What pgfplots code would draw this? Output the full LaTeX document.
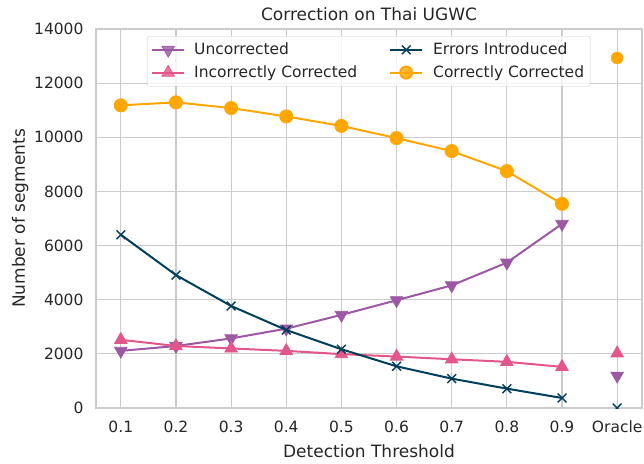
\documentclass[border=0pt]{standalone}
\usepackage{pgfplots}
\pgfplotsset{compat=1.18}
\usepackage{fontspec}
\setmainfont{DejaVu Sans}
\definecolor{cUnc}{HTML}{9D58A4}
\definecolor{cInc}{HTML}{E3568B}
\definecolor{cErr}{HTML}{003F5C}
\definecolor{cCor}{HTML}{FFA600}
\definecolor{cGrid}{HTML}{CCCCCC}
\definecolor{cText}{HTML}{262626}

\pgfplotstableread{
x unc inc err cor
0.1 2110 2520 6400 11180
0.2 2290 2290 4910 11290
0.3 2570 2200 3770 11080
0.4 2930 2110 2880 10770
0.5 3440 1990 2170 10420
0.6 3980 1900 1540 9970
0.7 4530 1800 1085 9490
0.8 5370 1705 715 8750
0.9 6800 1520 370 7540
}\datatable

\begin{document}
\begin{tikzpicture}
\useasboundingbox (-96bp,-56bp) rectangle (548bp,408bp);
\begin{axis}[
  scale only axis,
  width=546bp, height=379bp,
  xmin=0.055, xmax=1.045,
  ymin=0, ymax=14000,
  xtick={0.1,0.2,0.3,0.4,0.5,0.6,0.7,0.8,0.9,1.0},
  xticklabels={0.1,0.2,0.3,0.4,0.5,0.6,0.7,0.8,0.9,Oracle},
  ytick={0,2000,4000,6000,8000,10000,12000,14000},
  scaled y ticks=false,
  /pgf/number format/fixed,
  /pgf/number format/1000 sep={},
  /pgf/number format/assume math mode=true,
  major tick length=0pt,
  grid=major,
  major grid style={draw=cGrid, line width=1.2bp},
  axis line style={draw=cGrid, line width=1.2bp},
  tick label style={font=\fontsize{15.5bp}{18bp}\selectfont, text=cText},
  xticklabel style={yshift=-9bp},
  yticklabel style={xshift=-9bp},
  label style={font=\fontsize{17bp}{20bp}\selectfont, text=cText},
  xlabel style={yshift=-5bp},
  ylabel style={yshift=-1bp},
  title style={font=\fontsize{17bp}{20bp}\selectfont, text=cText, yshift=-1bp},
  title={Correction on Thai UGWC},
  xlabel={Detection Threshold},
  ylabel={Number of segments},
  clip marker paths=true,
  legend columns=2,
  legend cell align=left,
  legend style={
    at={(rel axis cs:0.0934,0.9815)}, anchor=north west,
    draw=cGrid, rounded corners=2bp, fill=white, fill opacity=0.8, text opacity=1,
    font=\fontsize{15.5bp}{18bp}\selectfont, text=cText,
    inner xsep=4bp, inner ysep=5bp,
    row sep=5.5bp,
    /tikz/column 1/.style={column sep=7bp},
    /tikz/column 2/.style={column sep=30bp},
    /tikz/column 3/.style={column sep=8bp},
  },
  legend image code/.code={
    \draw[mark repeat=2,mark phase=2] plot coordinates {(0bp,0bp) (16bp,0bp) (32bp,0bp)};
  },
]
\addplot[cUnc, line width=2bp, mark=triangle*, mark size=7.2bp, mark options={rotate=180, draw=cUnc, fill=cUnc, line width=0.8bp}, forget plot] table[x=x,y=unc] {\datatable};
\addplot[cInc, line width=2bp, mark=triangle*, mark size=7.2bp, mark options={draw=cInc, fill=cInc, line width=0.8bp}, forget plot] table[x=x,y=inc] {\datatable};
\addplot[cErr, line width=2bp, mark=x, mark size=6.2bp, mark options={line width=1.4bp}, forget plot] table[x=x,y=err] {\datatable};
\addplot[cCor, line width=2bp, mark=*, mark size=6bp, mark options={draw=cCor, fill=cCor}, forget plot] table[x=x,y=cor] {\datatable};
% Oracle
\addplot[only marks, mark=triangle*, mark size=7.2bp, mark options={rotate=180, draw=cUnc, fill=cUnc, line width=0.8bp}, forget plot] coordinates {(1.0,1190)};
\addplot[only marks, mark=triangle*, mark size=7.2bp, mark options={draw=cInc, fill=cInc, line width=0.8bp}, forget plot] coordinates {(1.0,2020)};
\addplot[only marks, cErr, mark=x, mark size=6.2bp, mark options={line width=1.4bp}, forget plot] coordinates {(1.0,0)};
\addplot[only marks, mark=*, mark size=6bp, mark options={draw=cCor, fill=cCor}, forget plot] coordinates {(1.0,12930)};
% legend
\addlegendimage{cUnc, line width=2bp, mark=triangle*, mark size=7.2bp, mark options={rotate=180, draw=cUnc, fill=cUnc, line width=0.8bp}}
\addlegendentry{Uncorrected}
\addlegendimage{cErr, line width=2bp, mark=x, mark size=6.2bp, mark options={line width=1.4bp}}
\addlegendentry{Errors Introduced}
\addlegendimage{cInc, line width=2bp, mark=triangle*, mark size=7.2bp, mark options={draw=cInc, fill=cInc, line width=0.8bp}}
\addlegendentry{Incorrectly Corrected}
\addlegendimage{cCor, line width=2bp, mark=*, mark size=6bp, mark options={draw=cCor, fill=cCor}}
\addlegendentry{Correctly Corrected}
\end{axis}
\end{tikzpicture}
\end{document}
